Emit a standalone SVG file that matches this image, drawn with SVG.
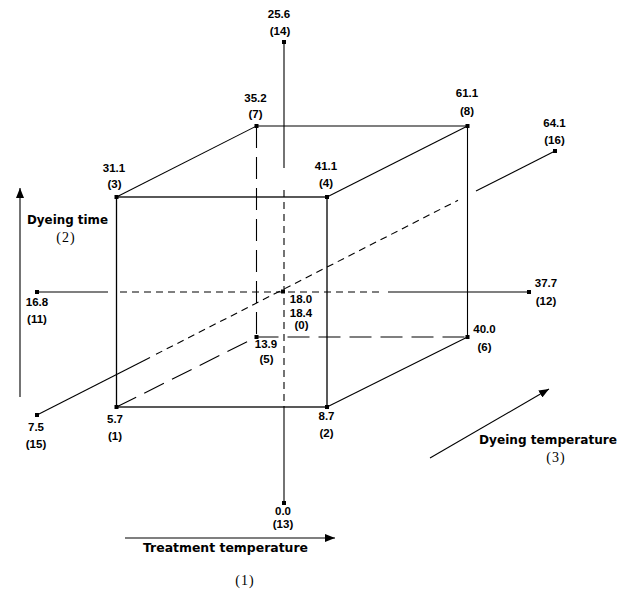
<svg xmlns="http://www.w3.org/2000/svg" width="629" height="589" viewBox="0 0 629 589">
<style>
.ln{stroke:#000;stroke-width:1.1;fill:none}
.fr{stroke:#000;stroke-width:1.3;fill:none}
.sd{stroke:#000;stroke-width:1.1;fill:none;stroke-dasharray:7,5}
.ld{stroke:#000;stroke-width:1.1;fill:none;stroke-dasharray:22,9}
.num{font-family:"Liberation Sans",Arial,sans-serif;font-weight:bold;font-size:11.5px;fill:#000;text-anchor:middle}
.ax{font-family:"DejaVu Sans",Verdana,sans-serif;font-weight:bold;font-size:12px;fill:#000;text-anchor:middle}
.ser{font-family:"Liberation Serif","Times New Roman",serif;font-size:14px;fill:#000;text-anchor:middle;letter-spacing:1px}
.pt{fill:#000}
</style>
<defs>
<marker id="ah" viewBox="0 0 10 8" refX="10" refY="4" markerWidth="10" markerHeight="8" markerUnits="userSpaceOnUse" orient="auto">
<path d="M0,0 L10,4 L0,8 Z" fill="#000"/>
</marker>
</defs>
<g id="connectors">
<rect class="fr" x="116.5" y="197" width="210.5" height="210"/>
<line class="ln" x1="116.5" y1="197" x2="256.5" y2="126"/>
<line class="ln" x1="256.5" y1="126" x2="467.5" y2="126"/>
<line class="ln" x1="327" y1="197" x2="467.5" y2="126"/>
<line class="ln" x1="467.5" y1="126" x2="467.5" y2="337"/>
<line class="ln" x1="327" y1="407" x2="467.5" y2="337"/>
<line class="ld" x1="256.5" y1="126" x2="256.5" y2="337"/>
<line class="ld" x1="256.5" y1="337" x2="467.5" y2="337"/>
<line class="ld" x1="116.5" y1="407" x2="256.5" y2="337"/>
<line class="ln" x1="284" y1="42" x2="284" y2="168"/>
<line class="sd" x1="284" y1="190" x2="284" y2="407"/>
<line class="ln" x1="284" y1="407" x2="284" y2="503"/>
<line class="ln" x1="37" y1="292" x2="108" y2="292"/>
<line class="sd" x1="120" y1="292" x2="382" y2="292"/>
<line class="ln" x1="388" y1="292" x2="529" y2="292"/>
<line class="ln" x1="37" y1="415" x2="150" y2="357.4"/>
<line class="sd" x1="156" y1="354.3" x2="458" y2="200.3"/>
<line class="ln" x1="476" y1="191.1" x2="555" y2="151"/>
<line class="ln" x1="20" y1="397" x2="20" y2="188" marker-end="url(#ah)"/>
<line class="ln" x1="125" y1="538" x2="335" y2="538" marker-end="url(#ah)"/>
<line class="ln" x1="430" y1="458" x2="549" y2="389" marker-end="url(#ah)"/>
</g>
<g id="n1"><rect class="pt" x="114.5" y="405" width="4" height="4"/><text class="num" x="115" y="423">5.7</text><text class="num" x="115" y="440">(1)</text></g>
<g id="n2"><rect class="pt" x="325" y="405" width="4" height="4"/><text class="num" x="326.5" y="420">8.7</text><text class="num" x="326.5" y="437">(2)</text></g>
<g id="n3"><rect class="pt" x="114.5" y="195" width="4" height="4"/><text class="num" x="114" y="171.5">31.1</text><text class="num" x="114.5" y="188">(3)</text></g>
<g id="n4"><rect class="pt" x="325" y="195" width="4" height="4"/><text class="num" x="326" y="170">41.1</text><text class="num" x="326" y="187">(4)</text></g>
<g id="n5"><rect class="pt" x="254.5" y="335" width="4" height="4"/><text class="num" x="266" y="348">13.9</text><text class="num" x="266.5" y="363">(5)</text></g>
<g id="n6"><rect class="pt" x="465.5" y="335" width="4" height="4"/><text class="num" x="484.5" y="333">40.0</text><text class="num" x="484.5" y="351">(6)</text></g>
<g id="n7"><rect class="pt" x="254.5" y="124" width="4" height="4"/><text class="num" x="255.5" y="101.5">35.2</text><text class="num" x="255.5" y="118">(7)</text></g>
<g id="n8"><rect class="pt" x="465.5" y="124" width="4" height="4"/><text class="num" x="467" y="97">61.1</text><text class="num" x="467" y="115">(8)</text></g>
<g id="n0"><rect class="pt" x="281" y="289.5" width="4" height="4"/><text class="num" x="301" y="303">18.0</text><text class="num" x="301" y="316.5">18.4</text><text class="num" x="301.5" y="329">(0)</text></g>
<g id="n11"><rect class="pt" x="35" y="290" width="4" height="4"/><text class="num" x="37" y="306">16.8</text><text class="num" x="37" y="323">(11)</text></g>
<g id="n12"><rect class="pt" x="527" y="290" width="4" height="4"/><text class="num" x="546" y="287">37.7</text><text class="num" x="546" y="305">(12)</text></g>
<g id="n13"><rect class="pt" x="282" y="501" width="4" height="4"/><text class="num" x="283" y="515">0.0</text><text class="num" x="283" y="528">(13)</text></g>
<g id="n14"><rect class="pt" x="282" y="40" width="4" height="4"/><text class="num" x="279" y="17.5">25.6</text><text class="num" x="280" y="34.5">(14)</text></g>
<g id="n15"><rect class="pt" x="35" y="413" width="4" height="4"/><text class="num" x="36" y="431">7.5</text><text class="num" x="36" y="448">(15)</text></g>
<g id="n16"><rect class="pt" x="553" y="149" width="4" height="4"/><text class="num" x="554.5" y="127">64.1</text><text class="num" x="554.5" y="144">(16)</text></g>
<g id="axis-labels">
<text class="ax" x="67.5" y="224" textLength="81" lengthAdjust="spacingAndGlyphs">Dyeing time</text>
<text class="ser" x="66" y="242">(2)</text>
<text class="ax" x="225.5" y="552" textLength="165" lengthAdjust="spacingAndGlyphs">Treatment temperature</text>
<text class="ser" x="245" y="585">(1)</text>
<text class="ax" x="548" y="444" textLength="138" lengthAdjust="spacingAndGlyphs">Dyeing temperature</text>
<text class="ser" x="556" y="462">(3)</text>
</g>
</svg>
